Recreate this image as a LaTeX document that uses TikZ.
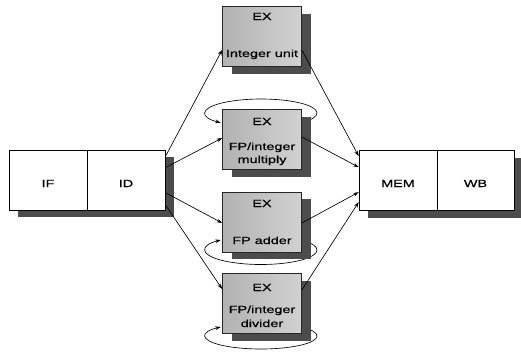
\documentclass[tikz,border=0pt]{standalone}
\usepackage{fontspec}
\setmainfont{Liberation Sans}[FakeStretch=1.4,FakeBold=0.5]
\usetikzlibrary{arrows.meta,shadows}
\begin{document}
\begin{tikzpicture}[x=1pt,y=-1pt,
  font=\fontsize{10.3}{12}\selectfont,
  every node/.style={inner sep=0pt},
  shad/.style={drop shadow={shadow xshift=9pt,shadow yshift=-7pt,fill=black!70,opacity=1}},
  stagebox/.style={draw=black,line width=0.7pt,fill=white,minimum width=78pt,minimum height=60pt,shad},
  exbox/.style={draw=black!85,line width=0.7pt,minimum width=79pt,minimum height=60pt,
    left color=black!30,middle color=black!6,right color=black!18,shad},
  lbl/.style={anchor=base},
  conn/.style={line width=0.65pt,-{Stealth[length=5.5pt,width=3.8pt]}},
  loop/.style={line width=0.65pt,-{Stealth[length=5.5pt,width=3.8pt]}}
]
\useasboundingbox (0,0) rectangle (521,354);
% loops (behind boxes)
\draw[loop] (261,113) ++(44:56 and 14) arc[start angle=44,end angle=-224,x radius=56,y radius=14];
\draw[loop] (261,250) ++(-44:56 and 14.5) arc[start angle=-44,end angle=224,x radius=56,y radius=14.5];
\draw[loop] (261,336) ++(-44:56 and 13) arc[start angle=-44,end angle=224,x radius=56,y radius=13];
% stage boxes
\node[stagebox] (IF) at (48,180) {};
\node[stagebox] (ID) at (126,180) {};
\node[stagebox] (MEM) at (398,180.5) {};
\node[stagebox,minimum width=77pt] (WB) at (475.5,180.5) {};
\node[lbl] (tIF) at (48,187) {IF};
\node[lbl] (tID) at (126,187) {ID};
\node[lbl] (tMEM) at (398,187) {MEM};
\node[lbl] (tWB) at (475.5,187) {WB};
% EX boxes
\node[exbox] (b1) at (262,36.5) {};
\node[exbox] (b2) at (262,139.5) {};
\node[exbox] (b3) at (262,222) {};
\node[exbox] (b4) at (262,303.5) {};
\node[lbl] (b1a) at (262,20) {EX};
\node[lbl] (b1b) at (262,57) {Integer unit};
\node[lbl] (b2a) at (262,125) {EX};
\node[lbl] (b2b) at (262,150) {FP/integer};
\node[lbl] (b2c) at (262,163) {multiply};
\node[lbl] (b3a) at (262,207) {EX};
\node[lbl] (b3b) at (262,244) {FP adder};
\node[lbl] (b4a) at (262,291) {EX};
\node[lbl] (b4b) at (262,313) {FP/integer};
\node[lbl] (b4c) at (262,327) {divider};
% connectors ID -> EX
\draw[conn] ([yshift=-7pt]ID.north east) -- ([yshift=-13.5pt]b1.west);
\draw[conn] ([yshift=-18pt]ID.north east) -- ([yshift=1.5pt]b2.west);
\draw[conn] ([yshift=-43pt]ID.north east) -- ([yshift=-1pt]b3.west);
\draw[conn] ([yshift=-55pt]ID.north east) -- ([yshift=14.5pt]b4.west);
% connectors EX -> MEM
\draw[conn] ([yshift=-13.5pt]b1.east) -- ([yshift=-6pt]MEM.north west);
\draw[conn] ([yshift=2.5pt]b2.east) -- ([yshift=-17pt]MEM.north west);
\draw[conn] ([yshift=-1pt]b3.east) -- ([yshift=-42pt]MEM.north west);
\draw[conn] ([yshift=13.5pt]b4.east) -- ([yshift=-52pt]MEM.north west);
\end{tikzpicture}
\end{document}
